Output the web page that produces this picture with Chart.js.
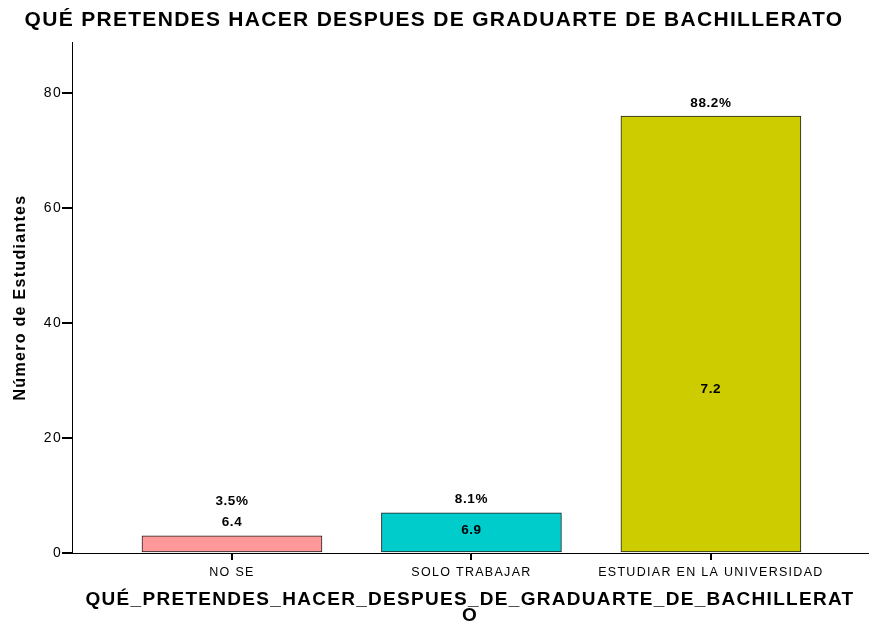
<!DOCTYPE html>
<html>
<head>
<meta charset="utf-8">
<script src="https://cdn.jsdelivr.net/npm/chart.js@4/dist/chart.umd.min.js"></script>
<style>
    html, body { margin: 0; padding: 0; background: #fff; }
    #wrap { width: 870px; height: 623px; }
</style>
</head>
<body>
<div id="wrap"><canvas id="grafico"></canvas></div>
<script>
// datos del gráfico
const categorias = ['NO SE', 'SOLO TRABAJAR', 'ESTUDIAR EN LA UNIVERSIDAD'];
const posiciones = [1, 2, 3];
const estudiantes = [3, 7, 76];
const porcentajes = ['3.5%', '8.1%', '88.2%'];
const etiquetasInternas = ['6.4', '6.9', '7.2'];
const ticksY = [0, 20, 40, 60, 80];
const colores = ['#FF9999', '#00CCCC', '#CCCC00'];

// espaciado de letras parecido al del original
const espaciadoPlugin = {
    id: 'espaciado',
    beforeDraw(chart) {
        chart.ctx.letterSpacing = '1.3px';
    }
};

// etiquetas sobre y dentro de las barras
const etiquetasPlugin = {
    id: 'etiquetas',
    afterDatasetsDraw(chart, args, opts) {
        const ctx = chart.ctx;
        const y = chart.scales.y;
        const meta = chart.getDatasetMeta(0);
        ctx.save();
        ctx.letterSpacing = '0.6px';
        ctx.font = 'bold 13.5px "Liberation Sans", Arial, sans-serif';
        ctx.fillStyle = '#000';
        ctx.textAlign = 'center';
        ctx.textBaseline = 'middle';
        meta.data.forEach((bar, i) => {
            const interna = y.getPixelForValue(opts.anclaInterna[i]);
            const pct = Math.min(bar.y - 13, interna - 21);
            ctx.fillText(porcentajes[i], bar.x, pct);
            ctx.fillText(etiquetasInternas[i], bar.x, interna);
        });
        ctx.restore();
    }
};

const fuente = '"Liberation Sans", Arial, sans-serif';

new Chart(document.getElementById('grafico'), {
    type: 'bar',
    data: {
        datasets: [{
            data: posiciones.map((x, i) => ({ x: x, y: estudiantes[i] })),
            backgroundColor: colores,
            borderColor: '#222',
            borderWidth: 1,
            borderSkipped: false,
            barThickness: 180
        }]
    },
    options: {
        responsive: true,
        maintainAspectRatio: false,
        animation: false,
        layout: { padding: { left: 0, right: 2, top: 0, bottom: 0 } },
        plugins: {
            legend: { display: false },
            tooltip: { enabled: false },
            title: {
                display: true,
                text: 'QUÉ PRETENDES HACER DESPUES DE GRADUARTE DE BACHILLERATO',
                color: '#000',
                font: { family: fuente, size: 21, weight: 'bold', lineHeight: 1.2 },
                padding: { top: 8, bottom: 8.8 }
            },
            etiquetas: { anclaInterna: [5.4, 4.0, 28.5] }
        },
        scales: {
            x: {
                type: 'linear',
                offset: false,
                min: 0.332,
                max: 3.656,
                afterBuildTicks: s => { s.ticks = posiciones.map(v => ({ value: v })); },
                afterFit: s => { s.height = 70; },
                grid: { offset: false, drawOnChartArea: false, drawTicks: true, tickLength: 7, lineWidth: 2, color: '#000' },
                border: { display: true, color: '#000', width: 1 },
                ticks: {
                    color: '#000',
                    padding: 5,
                    maxRotation: 0,
                    autoSkip: false,
                    font: { family: fuente, size: 12.5 },
                    callback: v => categorias[posiciones.indexOf(v)]
                },
                title: {
                    display: true,
                    text: ['QUÉ_PRETENDES_HACER_DESPUES_DE_GRADUARTE_DE_BACHILLERAT', 'O'],
                    color: '#000',
                    font: { family: fuente, size: 19, weight: 'bold', lineHeight: 0.8 },
                    padding: { top: 1, bottom: 0 }
                }
            },
            y: {
                min: 0,
                max: 88.9,
                afterBuildTicks: s => { s.ticks = ticksY.map(v => ({ value: v })); },
                afterFit: s => { s.width = 72; },
                grid: { drawOnChartArea: false, drawTicks: true, tickLength: 10, lineWidth: 2, color: '#000' },
                border: { display: true, color: '#000', width: 1 },
                ticks: {
                    color: '#000',
                    padding: 0,
                    font: { family: fuente, size: 14 }
                },
                title: {
                    display: true,
                    text: 'Número de Estudiantes',
                    color: '#000',
                    font: { family: fuente, size: 16, weight: 'bold' },
                    padding: { top: 11, bottom: 0 }
                }
            }
        }
    },
    plugins: [espaciadoPlugin, etiquetasPlugin]
});
</script>
</body>
</html>
